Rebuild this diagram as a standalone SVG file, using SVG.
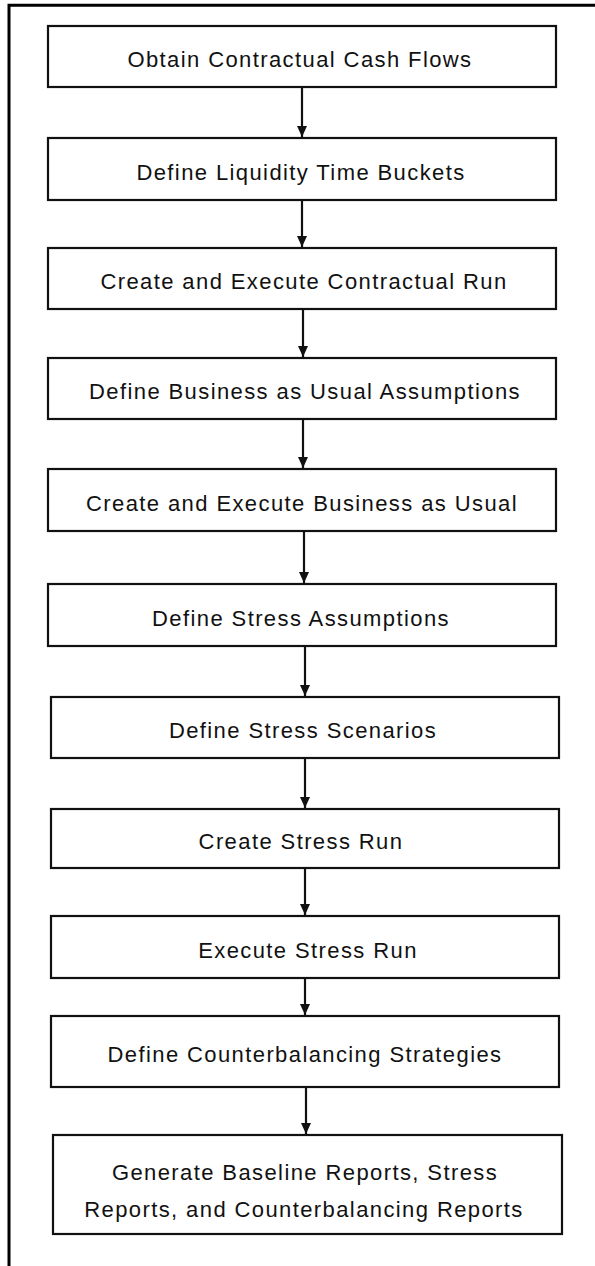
<svg xmlns="http://www.w3.org/2000/svg" width="595" height="1266" viewBox="0 0 595 1266">
<style>
.box{fill:#fff;stroke:#111;stroke-width:2.2}
.t{font-family:"Liberation Sans",Arial,sans-serif;font-size:22px;letter-spacing:1.4px;fill:#111;text-anchor:middle}
.c{stroke:#111;stroke-width:2.2;fill:none}
.frame{stroke:#000;stroke-width:3;fill:none}
</style>
<defs>
<marker id="ah" markerUnits="userSpaceOnUse" markerWidth="12" markerHeight="12" viewBox="0 0 12 12" refX="11" refY="6" orient="auto">
<path d="M0,1 L11,6 L0,11 Z" fill="#111"/>
</marker>
</defs>
<rect width="595" height="1266" fill="#fff"/>
<g id="frame">
<path class="frame" d="M9,1266 V5.3 H595"/>
</g>
<g id="connectors">
<line class="c" x1="302" y1="88" x2="302" y2="137" marker-end="url(#ah)"/>
<line class="c" x1="302" y1="201" x2="302" y2="247" marker-end="url(#ah)"/>
<line class="c" x1="303" y1="310" x2="303" y2="357" marker-end="url(#ah)"/>
<line class="c" x1="303" y1="420" x2="303" y2="468" marker-end="url(#ah)"/>
<line class="c" x1="304" y1="532" x2="304" y2="583" marker-end="url(#ah)"/>
<line class="c" x1="305" y1="647" x2="305" y2="696" marker-end="url(#ah)"/>
<line class="c" x1="305" y1="759" x2="305" y2="808" marker-end="url(#ah)"/>
<line class="c" x1="305" y1="869" x2="305" y2="915" marker-end="url(#ah)"/>
<line class="c" x1="305" y1="979" x2="305" y2="1015" marker-end="url(#ah)"/>
<line class="c" x1="306" y1="1088" x2="306" y2="1134" marker-end="url(#ah)"/>
</g>
<g id="n1"><rect class="box" x="48" y="26" width="508" height="61"/><text class="t" x="300" y="67">Obtain Contractual Cash Flows</text></g>
<g id="n2"><rect class="box" x="48" y="138" width="508" height="62"/><text class="t" x="301" y="180">Define Liquidity Time Buckets</text></g>
<g id="n3"><rect class="box" x="48" y="248" width="508" height="61"/><text class="t" x="304" y="289">Create and Execute Contractual Run</text></g>
<g id="n4"><rect class="box" x="48" y="358" width="508" height="61"/><text class="t" x="305" y="399">Define Business as Usual Assumptions</text></g>
<g id="n5"><rect class="box" x="48" y="469" width="508" height="62"/><text class="t" x="302" y="511">Create and Execute Business as Usual</text></g>
<g id="n6"><rect class="box" x="48" y="584" width="508" height="62"/><text class="t" x="301" y="626">Define Stress Assumptions</text></g>
<g id="n7"><rect class="box" x="51" y="697" width="508" height="61"/><text class="t" x="303" y="738">Define Stress Scenarios</text></g>
<g id="n8"><rect class="box" x="51" y="809" width="508" height="59"/><text class="t" x="301" y="849">Create Stress Run</text></g>
<g id="n9"><rect class="box" x="51" y="916" width="508" height="62"/><text class="t" x="308" y="958">Execute Stress Run</text></g>
<g id="n10"><rect class="box" x="51" y="1016" width="508" height="71"/><text class="t" x="305" y="1062">Define Counterbalancing Strategies</text></g>
<g id="n11"><rect class="box" x="53" y="1135" width="509" height="99"/><text class="t" x="305" y="1180">Generate Baseline Reports, Stress</text><text class="t" x="304" y="1217">Reports, and Counterbalancing Reports</text></g>
</svg>
